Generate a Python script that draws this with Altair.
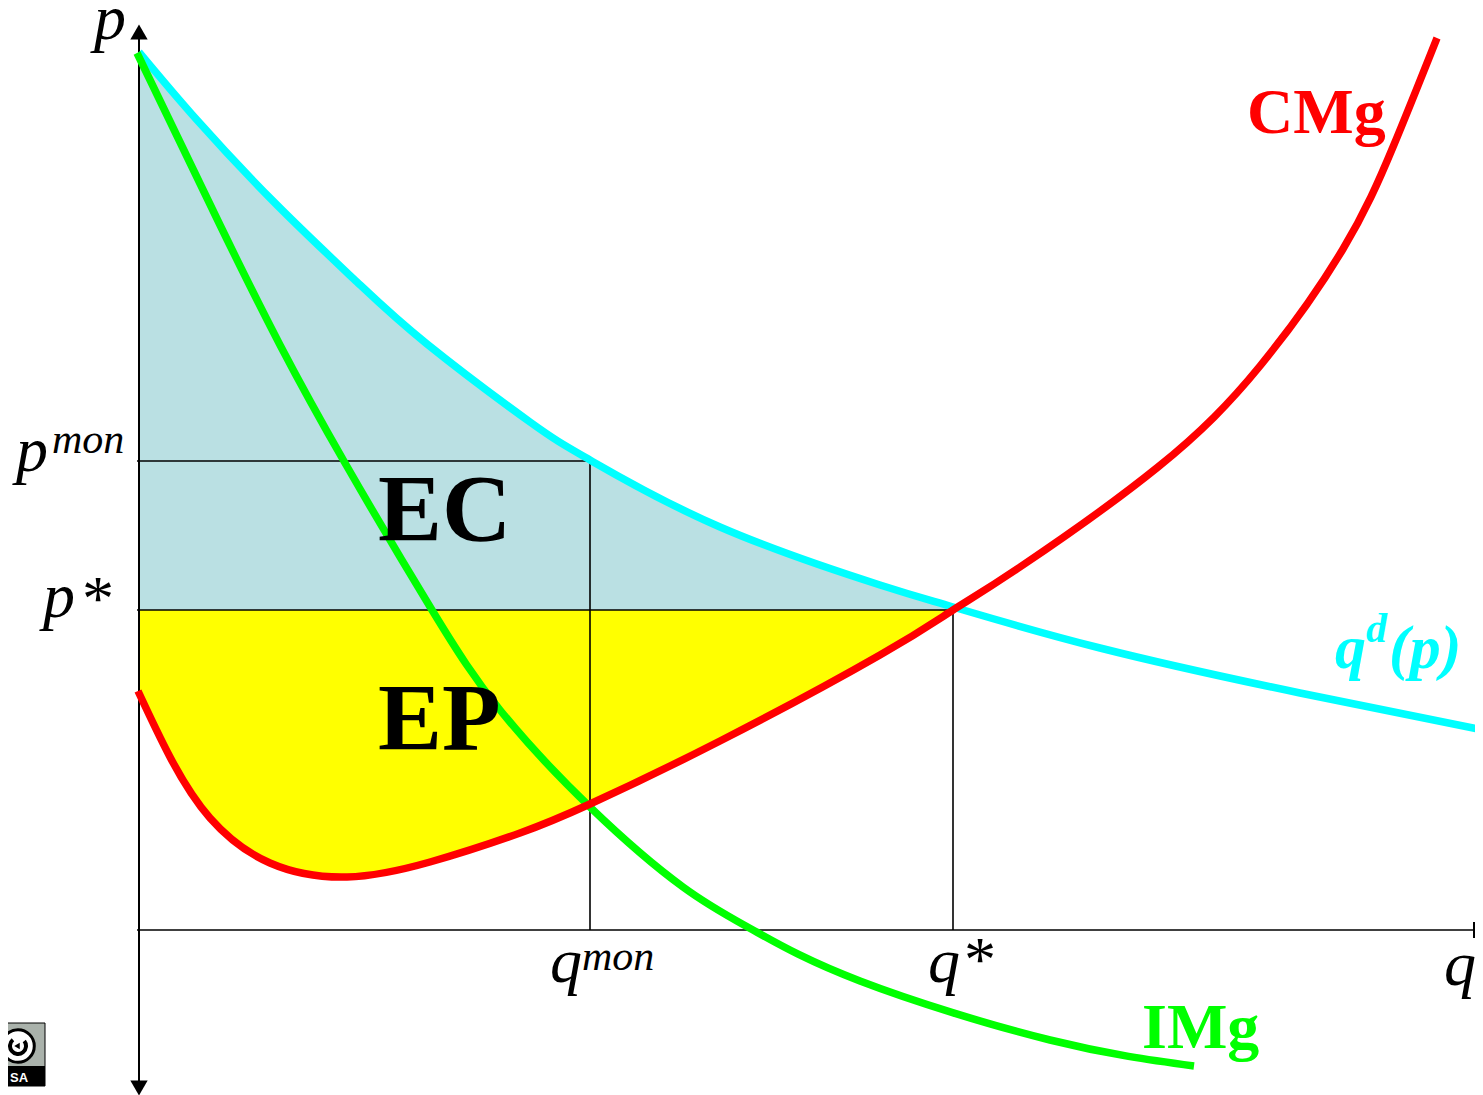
import altair as alt
import pandas as pd

demand_q = [0, 58, 138, 218, 288, 391, 451, 581, 741, 814, 961, 1161, 1344]
demand_p = [878, 810, 725, 648, 586, 508, 470, 403, 345, 323, 282, 237, 200]
mc_q = [-1, 31, 71, 131, 208, 291, 381, 451, 581, 741, 814, 881, 1019, 1121, 1204, 1254, 1298]
mc_p = [239, 173, 112, 67, 53, 68, 97, 126, 189, 275, 320, 363, 463, 564, 681, 783, 892]
mr_q = [-2, 81, 141, 206, 293, 361, 452, 544, 614, 721, 911, 1055]
mr_p = [877, 705, 585, 467, 320, 220, 122, 43, 0, -51, -110, -136]
p_star, q_star = 320, 814
p_mon, q_mon = 469, 451

labels_italic = pd.DataFrame({
    "q": [-45, -123, -96, 411, 443, 789, 1305],
    "p": [891, 459, 313, -52, -40, -52, -55],
    "t": ["p", "p", "p", "q", "mon", "q", "q"],
    "s": [64, 64, 64, 64, 42, 64, 64],
})
labels_super = pd.DataFrame({"q": [-87], "p": [477], "t": ["mon"], "s": [42]})
labels_star = pd.DataFrame({"q": [-60, 822], "p": [310, -51], "t": ["*", "*"], "s": [64, 64]})
labels_bold = pd.DataFrame({
    "q": [239, 239, 1108, 1003],
    "p": [389, 180, 797, -118],
    "t": ["EC", "EP", "CMg", "IMg"],
    "s": [96, 96, 64, 64],
    "c": ["#000000", "#000000", "#ff0000", "#00ff00"],
})
labels_demand = pd.DataFrame({
    "q": [1196, 1227, 1250],
    "p": [262, 288, 262],
    "t": ["q", "d", "(p)"],
    "s": [62, 42, 62],
})

x = alt.X("q:Q", scale=alt.Scale(domain=[-131, 1336], nice=False, zero=False), axis=None)
y = alt.Y("p:Q", scale=alt.Scale(domain=[-165, 922], nice=False, zero=False), axis=None)
q2 = alt.X2("q2:Q")
p2 = alt.Y2("p2:Q")

d = pd.DataFrame({"q": demand_q, "p": demand_p})
mc = pd.DataFrame({"q": mc_q, "p": mc_p})
mr = pd.DataFrame({"q": mr_q, "p": mr_p})

ec = d[d.q <= q_star].assign(p2=p_star)
ep = mc[mc.q <= q_star].assign(p2=p_star)

curve_kind = "natural"

area_ec = alt.Chart(ec).mark_area(color="#bae0e3", interpolate=curve_kind).encode(x=x, y=y, y2=p2)
area_ep = alt.Chart(ep).mark_area(color="#ffff00", interpolate=curve_kind).encode(x=x, y=y, y2=p2)

guides = pd.DataFrame({
    "q": [-2, -2, q_mon, q_star, -2],
    "q2": [q_mon, q_star, q_mon, q_star, 1336],
    "p": [p_mon, p_star, p_mon, p_star, 0],
    "p2": [p_mon, p_star, 0, 0, 0],
})
guide_rules = alt.Chart(guides).mark_rule(color="#000000", strokeWidth=1.6).encode(x=x, x2=q2, y=y, y2=p2)
axis_v = alt.Chart(pd.DataFrame({"q": [0], "p": [895], "p2": [-155]})).mark_rule(color="#000000", strokeWidth=2).encode(x=x, y=y, y2=p2)
axis_tip = alt.Chart(pd.DataFrame({"q": [1335], "p": [8], "p2": [-8]})).mark_rule(color="#000000", strokeWidth=2).encode(x=x, y=y, y2=p2)
head_up = alt.Chart(pd.DataFrame({"q": [0], "p": [898]})).mark_point(shape="triangle-up", filled=True, color="#000000", size=300, opacity=1).encode(x=x, y=y)
head_down = alt.Chart(pd.DataFrame({"q": [0], "p": [-158]})).mark_point(shape="triangle-down", filled=True, color="#000000", size=300, opacity=1).encode(x=x, y=y)

def curve(df, color):
    return alt.Chart(df).mark_line(color=color, strokeWidth=7.5, interpolate=curve_kind, strokeCap="butt", clip=False).encode(
        x=x, y=y, order=alt.Order("q:Q"))

def text(df, **kw):
    enc = dict(x=x, y=y, text="t:N", size=alt.Size("s:Q", scale=None, legend=None))
    if "c" in df:
        enc["color"] = alt.Color("c:N", scale=None, legend=None)
    return alt.Chart(df).mark_text(font="Liberation Serif", align="left", baseline="alphabetic", **kw).encode(**enc)

# Licence badge
badge_box = alt.Chart(pd.DataFrame({"q": [-145], "q2": [-94], "p": [-93], "p2": [-156]})).mark_rect(
    color="#aab2ab", stroke="#000000", strokeWidth=1).encode(x=x, x2=q2, y=y, y2=p2)
badge_strip = alt.Chart(pd.DataFrame({"q": [-145], "q2": [-94], "p": [-136], "p2": [-156]})).mark_rect(color="#000000").encode(x=x, x2=q2, y=y, y2=p2)
badge_ring = alt.Chart(pd.DataFrame({"q": [-121], "p": [-116]})).mark_point(
    shape="circle", filled=True, fill="#ffffff", stroke="#000000", strokeWidth=3, size=1060, opacity=1).encode(x=x, y=y)
badge_in = alt.Chart(pd.DataFrame({"q": [-121], "p": [-116]})).mark_arc(
    color="#000000", theta=0.9, theta2=5.6, radius=10, radius2=6).encode(x=x, y=y)
badge_tip = alt.Chart(pd.DataFrame({"q": [-122], "p": [-116]})).mark_point(
    shape="triangle-left", filled=True, color="#000000", size=40, opacity=1).encode(x=x, y=y)
badge_sa = alt.Chart(pd.DataFrame({"q": [-129], "p": [-152], "t": ["SA"]})).mark_text(
    font="Liberation Sans", fontWeight="bold", fontSize=13, color="#ffffff", align="left", baseline="alphabetic").encode(x=x, y=y, text="t:N")

chart = alt.layer(
    area_ec, area_ep, guide_rules, axis_v, axis_tip, head_up, head_down,
    curve(d, "#00ffff"), curve(mr, "#00ff00"), curve(mc, "#ff0000"),
    text(labels_italic, fontStyle="italic"),
    text(labels_super, fontStyle="italic"),
    text(labels_star, fontStyle="italic"),
    text(labels_bold, fontWeight="bold"),
    text(labels_demand, fontWeight="bold", fontStyle="italic", color="#00ffff"),
    badge_box, badge_strip, badge_ring, badge_in, badge_tip, badge_sa,
).properties(
    width=1467, height=1087, padding=0, autosize=alt.AutoSizeParams(type="none"),
).configure_view(stroke=None)

chart.save("out.html", embed_options={"renderer": "svg", "actions": False})
